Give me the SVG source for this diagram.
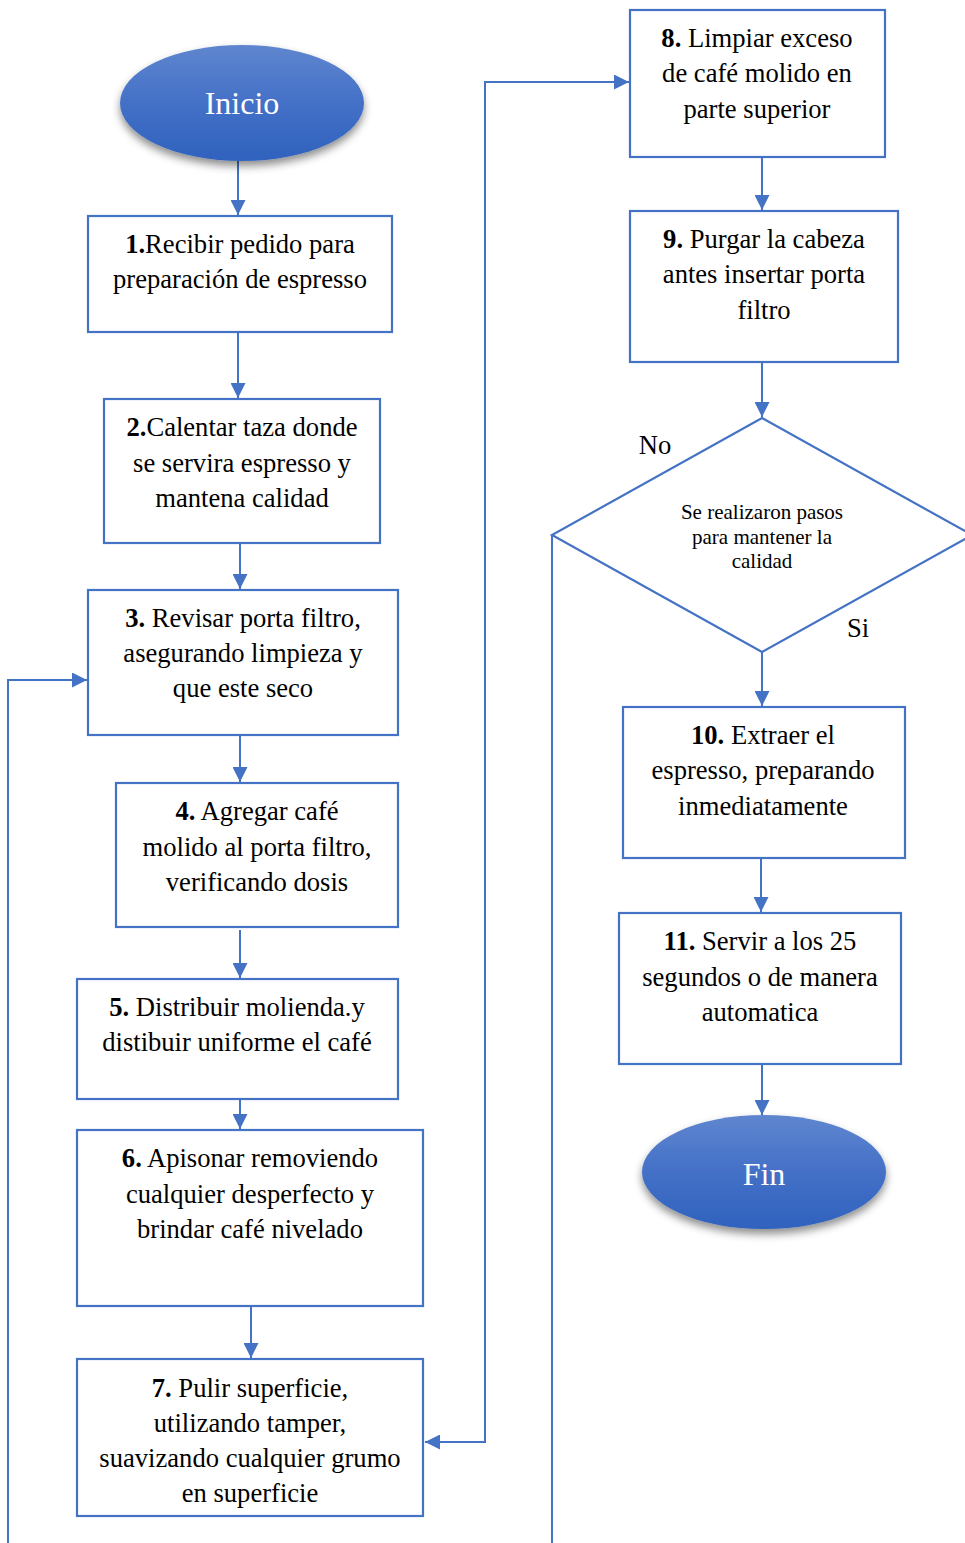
<svg xmlns="http://www.w3.org/2000/svg" width="965" height="1543" viewBox="0 0 965 1543">
  <style>
    .box { fill: #ffffff; stroke: #4472C4; stroke-width: 2.2; }
    .dia { fill: #ffffff; stroke: #4472C4; stroke-width: 2.2; }
    .wire { fill: none; stroke: #4472C4; stroke-width: 2; }
    .t { font-family: "Liberation Serif", "Times New Roman", serif; font-size: 26.6px; fill: #000000; text-anchor: middle; }
    .small { font-size: 21px; }
    .term { font-family: "Liberation Serif", "Times New Roman", serif; font-size: 32px; fill: #ffffff; text-anchor: middle; }
    .b { font-weight: bold; }
  </style>
  <defs>
    <linearGradient id="termFill" x1="0" y1="0" x2="0" y2="1">
      <stop offset="0" stop-color="#5f86cf"/>
      <stop offset="0.5" stop-color="#4470c7"/>
      <stop offset="1" stop-color="#2f62bd"/>
    </linearGradient>
    <filter id="shadow" x="-20%" y="-20%" width="140%" height="150%">
      <feDropShadow dx="0" dy="5" stdDeviation="4" flood-color="#000000" flood-opacity="0.45"/>
    </filter>
    <marker id="arrowBig" viewBox="0 0 10 10" refX="10" refY="5" markerWidth="15" markerHeight="15" markerUnits="userSpaceOnUse" orient="auto-start-reverse">
      <path d="M0,0 L10,5 L0,10 z" fill="#4472C4"/>
    </marker>
  </defs>

  <!-- connectors -->
  <g id="connectors">
    <line class="wire" x1="238" y1="160" x2="238" y2="215" marker-end="url(#arrowBig)"/>
    <line class="wire" x1="238" y1="332" x2="238" y2="398" marker-end="url(#arrowBig)"/>
    <line class="wire" x1="240" y1="543" x2="240" y2="589" marker-end="url(#arrowBig)"/>
    <line class="wire" x1="240" y1="735" x2="240" y2="782" marker-end="url(#arrowBig)"/>
    <line class="wire" x1="240" y1="930" x2="240" y2="978" marker-end="url(#arrowBig)"/>
    <line class="wire" x1="240" y1="1099" x2="240" y2="1129" marker-end="url(#arrowBig)"/>
    <line class="wire" x1="251" y1="1306" x2="251" y2="1358" marker-end="url(#arrowBig)"/>
    <!-- 7 <-> 8 -->
    <polyline class="wire" points="425,1442 485,1442 485,82 629,82" marker-start="url(#arrowBig)" marker-end="url(#arrowBig)"/>
    <!-- loop back into step 3 -->
    <polyline class="wire" points="8,1545 8,680 87,680" marker-end="url(#arrowBig)"/>
    <!-- "No" branch from the decision -->
    <line class="wire" x1="552" y1="535" x2="552" y2="1545"/>
    <line class="wire" x1="762" y1="157" x2="762" y2="210" marker-end="url(#arrowBig)"/>
    <line class="wire" x1="762" y1="362" x2="762" y2="417" marker-end="url(#arrowBig)"/>
    <line class="wire" x1="762" y1="652" x2="762" y2="706" marker-end="url(#arrowBig)"/>
    <line class="wire" x1="761" y1="858" x2="761" y2="912" marker-end="url(#arrowBig)"/>
    <line class="wire" x1="762" y1="1064" x2="762" y2="1115" marker-end="url(#arrowBig)"/>
  </g>

  <g id="inicio">
    <ellipse cx="242" cy="103" rx="122" ry="58" fill="url(#termFill)" filter="url(#shadow)"/>
    <text class="term" x="242" y="114">Inicio</text>
  </g>

  <g id="paso1">
    <rect class="box" x="88" y="216" width="304" height="116"/>
    <text class="t" x="240" y="253"><tspan class="b">1.</tspan>Recibir pedido para</text>
    <text class="t" x="240" y="288">preparación de espresso</text>
  </g>

  <g id="paso2">
    <rect class="box" x="104" y="399" width="276" height="144"/>
    <text class="t" x="242" y="436"><tspan class="b">2.</tspan>Calentar taza donde</text>
    <text class="t" x="242" y="472">se servira espresso y</text>
    <text class="t" x="242" y="507">mantena calidad</text>
  </g>

  <g id="paso3">
    <rect class="box" x="88" y="590" width="310" height="145"/>
    <text class="t" x="243" y="627"><tspan class="b">3.</tspan> Revisar porta filtro,</text>
    <text class="t" x="243" y="662">asegurando limpieza y</text>
    <text class="t" x="243" y="697">que este seco</text>
  </g>

  <g id="paso4">
    <rect class="box" x="116" y="783" width="282" height="144"/>
    <text class="t" x="257" y="820"><tspan class="b">4.</tspan> Agregar café</text>
    <text class="t" x="257" y="856">molido al porta filtro,</text>
    <text class="t" x="257" y="891">verificando dosis</text>
  </g>

  <g id="paso5">
    <rect class="box" x="77" y="979" width="321" height="120"/>
    <text class="t" x="237" y="1016"><tspan class="b">5.</tspan> Distribuir molienda.y</text>
    <text class="t" x="237" y="1051">distibuir uniforme el café</text>
  </g>

  <g id="paso6">
    <rect class="box" x="77" y="1130" width="346" height="176"/>
    <text class="t" x="250" y="1167"><tspan class="b">6.</tspan> Apisonar removiendo</text>
    <text class="t" x="250" y="1203">cualquier desperfecto y</text>
    <text class="t" x="250" y="1238">brindar café nivelado</text>
  </g>

  <g id="paso7">
    <rect class="box" x="77" y="1359" width="346" height="157"/>
    <text class="t" x="250" y="1397"><tspan class="b">7.</tspan> Pulir superficie,</text>
    <text class="t" x="250" y="1432">utilizando tamper,</text>
    <text class="t" x="250" y="1467">suavizando cualquier grumo</text>
    <text class="t" x="250" y="1502">en superficie</text>
  </g>

  <g id="paso8">
    <rect class="box" x="630" y="10" width="255" height="147"/>
    <text class="t" x="757" y="47"><tspan class="b">8.</tspan> Limpiar exceso</text>
    <text class="t" x="757" y="82">de café molido en</text>
    <text class="t" x="757" y="118">parte superior</text>
  </g>

  <g id="paso9">
    <rect class="box" x="630" y="211" width="268" height="151"/>
    <text class="t" x="764" y="248"><tspan class="b">9.</tspan> Purgar la cabeza</text>
    <text class="t" x="764" y="283">antes insertar porta</text>
    <text class="t" x="764" y="319">filtro</text>
  </g>

  <g id="decision">
    <polygon class="dia" points="762,418 972,535 762,652 552,535"/>
    <text class="t small" x="762" y="519">Se realizaron pasos</text>
    <text class="t small" x="762" y="544">para mantener la</text>
    <text class="t small" x="762" y="568">calidad</text>
    <text class="t" x="655" y="454">No</text>
    <text class="t" x="858" y="637">Si</text>
  </g>

  <g id="paso10">
    <rect class="box" x="623" y="707" width="282" height="151"/>
    <text class="t" x="763" y="744"><tspan class="b">10.</tspan> Extraer el</text>
    <text class="t" x="763" y="779">espresso, preparando</text>
    <text class="t" x="763" y="815">inmediatamente</text>
  </g>

  <g id="paso11">
    <rect class="box" x="619" y="913" width="282" height="151"/>
    <text class="t" x="760" y="950"><tspan class="b">11.</tspan> Servir a los 25</text>
    <text class="t" x="760" y="986">segundos o de manera</text>
    <text class="t" x="760" y="1021">automatica</text>
  </g>

  <g id="fin">
    <ellipse cx="764" cy="1172" rx="122" ry="57" fill="url(#termFill)" filter="url(#shadow)"/>
    <text class="term" x="764" y="1185">Fin</text>
  </g>
</svg>
